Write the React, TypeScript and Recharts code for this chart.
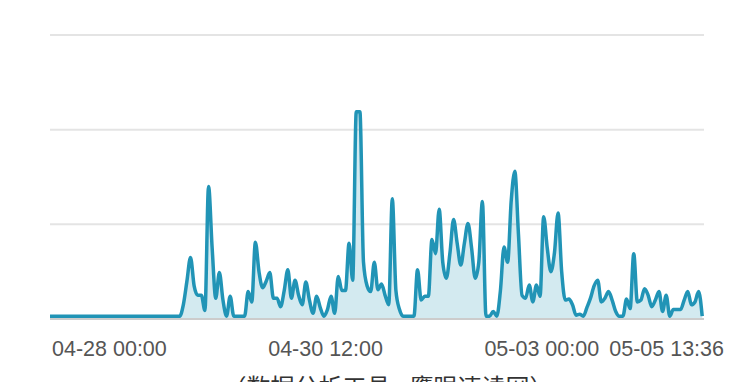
import React from 'react';
import { AreaChart, Area, XAxis, YAxis, CartesianGrid } from 'recharts';

// hourly values starting 04-28 00:00
const values: number[] = [
  3, 3, 3, 3, 3, 3, 3, 3, 3, 3,
  3, 3, 3, 3, 3, 3, 3, 3, 3, 3,
  3, 3, 3, 3, 3, 3, 3, 3, 3, 3,
  3, 3, 3, 3, 3, 3, 3, 15, 40, 65,
  35, 25, 25, 9, 140, 75, 22, 49, 20, 3,
  24, 3, 3, 3, 3, 29, 18, 81, 50, 33,
  40, 49, 22, 22, 13, 30, 52, 22, 41, 25,
  15, 39, 20, 6, 24, 12, 3, 10, 24, 6,
  45, 30, 30, 80, 41, 219, 219, 60, 35, 29,
  60, 31, 37, 25, 15, 127, 30, 10, 3, 3,
  3, 3, 52, 20, 24, 24, 84, 69, 116, 60,
  43, 70, 105, 80, 57, 80, 101, 75, 43, 60,
  124, 3, 3, 8, 3, 30, 76, 60, 125, 156,
  90, 25, 22, 36, 18, 36, 24, 108, 75, 50,
  70, 112, 50, 20, 21, 15, 4, 5, 3, 12,
  22, 35, 41, 18, 22, 29, 20, 8, 3, 3,
  21, 11, 69, 18, 20, 32, 25, 13, 20, 29,
  8, 25, 3, 10, 10, 10, 20, 29, 15, 18,
  29, 3,
];

const tickHours: number[] = [0, 60, 120, 181.5];
const tickLabels: string[] = ['04-28 00:00', '04-30 12:00', '05-03 00:00', '05-05 13:36'];
const yTicks: number[] = [0, 100, 200, 300];
const footer = '（数据分析工具 - 鹰眼速读网）';

const data = values.map((v, i) => ({ h: i, v }));

const Tick = (props: any) => {
  const { x, y, payload } = props;
  const idx = tickHours.indexOf(payload.value);
  const last = idx === tickHours.length - 1;
  return (
    <text
      x={x + (last ? 20 : 2)}
      y={y + 29}
      textAnchor={last ? 'end' : 'start'}
      fill="#555"
      fontSize={21.5}
      fontFamily="'Liberation Sans', Arial, Helvetica, sans-serif"
    >
      {idx >= 0 ? tickLabels[idx] : ''}
    </text>
  );
};

export default function App() {
  return (
    <div style={{ position: 'absolute', left: 0, top: 0, width: 738, height: 382, overflow: 'hidden', background: '#fff' }}>
      <AreaChart width={738} height={382} data={data} margin={{ top: 35, right: 34, bottom: 33, left: 50 }}>
        <CartesianGrid vertical={false} stroke="#e4e4e4" strokeWidth={2} />
        <YAxis hide domain={[0, 300]} ticks={yTicks} />
        <XAxis
          dataKey="h"
          type="number"
          domain={[0, 181.5]}
          ticks={tickHours}
          interval={0}
          height={30}
          tickLine={false}
          axisLine={{ stroke: '#cccccc', strokeWidth: 2 }}
          tick={<Tick />}
        />
        <Area
          type="monotone"
          dataKey="v"
          stroke="#2194b6"
          strokeWidth={3.5}
          fill="#2194b6"
          fillOpacity={0.2}
          dot={false}
          activeDot={false}
          isAnimationActive={false}
        />
      </AreaChart>
      <div
        style={{
          position: 'absolute',
          left: 0,
          width: 776,
          top: 373,
          textAlign: 'center',
          fontSize: 24,
          lineHeight: '26px',
          color: '#333',
          fontFamily: "'Noto Sans CJK SC', sans-serif",
          whiteSpace: 'nowrap',
        }}
      >
        {footer}
      </div>
    </div>
  );
}
